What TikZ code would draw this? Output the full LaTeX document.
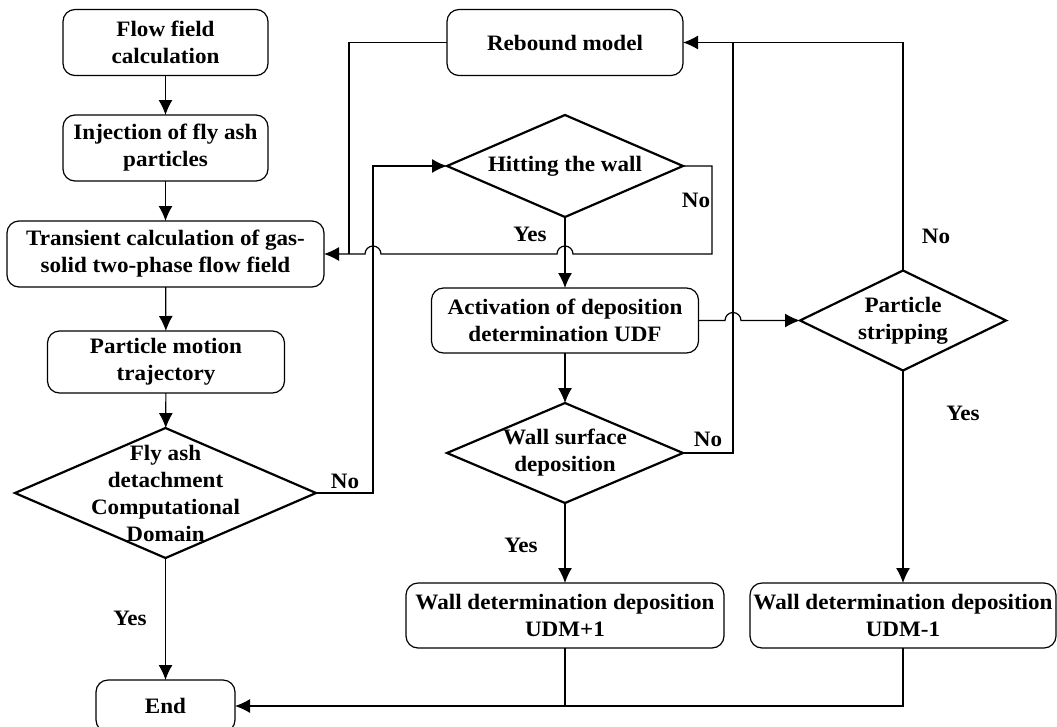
\documentclass[tikz,border=0pt]{standalone}
\usepackage{fontspec}
\setmainfont[FakeStretch=1.05]{Liberation Serif}
\usetikzlibrary{shapes.geometric,arrows.meta}
\tikzset{>={Latex[length=15pt,width=14pt]},
    every node/.style={font=\bfseries\fontsize{22}{27}\selectfont,inner sep=0pt,outer sep=0pt},
    box/.style={draw,rounded corners=12pt,line width=1.2pt,align=center},
    decision/.style={draw,diamond,line width=2.2pt},
    link/.style={line width=1.2pt},
}

\begin{document}
\begin{tikzpicture}[x=1pt,y=-1pt]
    \useasboundingbox (0,0) rectangle (1057,726);
    % left column
    \node[box,minimum width=205,minimum height=66] (flow) at (165.5,42.5) {Flow field\\calculation};
    \node[box,minimum width=205,minimum height=66] (inj) at (165.5,148) {Injection of fly ash\\particles};
    \node[box,minimum width=317,minimum height=66] (trans) at (165.5,254) {Transient calculation of gas-\\solid two-phase flow field};
    \node[box,minimum width=237,minimum height=62] (traj) at (166,362) {Particle motion\\trajectory};
    \node[decision,minimum width=301,minimum height=130] (detach) at (165.5,493) {};
    \node[align=center] (detach-t) at (detach) {Fly ash\\detachment\\Computational\\Domain};
    \node[box,minimum width=139,minimum height=52] (end) at (165.5,706) {End};
    % middle column
    \node[box,minimum width=236,minimum height=66] (rebound) at (565,42.5) {Rebound model};
    \node[decision,minimum width=236,minimum height=102] (hit) at (565,166) {};
    \node (hit-t) at (hit) {Hitting the wall};
    \node[box,minimum width=267,minimum height=65] (act) at (565,320.5) {Activation of deposition\\determination UDF};
    \node[decision,minimum width=236,minimum height=100] (wsd) at (565,453) {};
    \node[align=center] (wsd-t) at (wsd) {Wall surface\\deposition};
    \node[box,minimum width=318,minimum height=65] (udmp) at (565,615.5) {Wall determination deposition\\UDM+1};
    % right column
    \node[decision,minimum width=206,minimum height=100] (strip) at (903,320.5) {};
    \node[align=center] (strip-t) at (strip) {Particle\\stripping};
    \node[box,minimum width=306,minimum height=65] (udmm) at (903,615.5) {Wall determination deposition\\UDM-1};

    \coordinate (nocorner) at (373,166);
    \coordinate (hitno) at (712,254);
    \coordinate (rbjoin) at (349,254);
    \coordinate (wsdjoin) at (733,42.5);

    \draw[link,->] (flow) -- (inj);
    \draw[link,->] (inj) -- (trans);
    \draw[link,->] (trans) -- (traj);
    \draw[link,->] (traj) -- (detach);
    \draw[link,->] (detach) -- (end);
    \draw[link,->] (detach.east) -| (nocorner) -- (hit.west);
    \draw[link,->] (hit) -- (act);
    \draw[link,->] (hit.east) -| (hitno) -- ([xshift=8pt]hit.south |- hitno) arc (0:180:8pt)
        -- ([xshift=8pt]nocorner |- hitno) arc (0:180:8pt) -- (trans.east);
    \draw[link] (rebound.west) -| (rbjoin);
    \draw[link,->] (act.east) -- ([xshift=-8pt]wsdjoin |- act.east) arc (180:0:8pt) -- (strip.west);
    \draw[link,->] (act) -- (wsd);
    \draw[link,->] (wsd) -- (udmp);
    \draw[link] (wsd.east) -| (wsdjoin);
    \draw[link,->] (strip.north) |- (rebound.east);
    \draw[link,->] (strip) -- (udmm);
    \draw[link,->] (udmm.south) |- (end.east);
    \draw[link] (udmp.south) -- (udmp.south |- end.east);

    % answers
    \node (yes1) at (130,618) {Yes};
    \node (no1) at (345,481) {No};
    \node (yes2) at (530,234) {Yes};
    \node (no2) at (696,200) {No};
    \node (no3) at (708,439) {No};
    \node (yes3) at (521,545) {Yes};
    \node (no4) at (936,236) {No};
    \node (yes4) at (963,413) {Yes};
\end{tikzpicture}
\end{document}
